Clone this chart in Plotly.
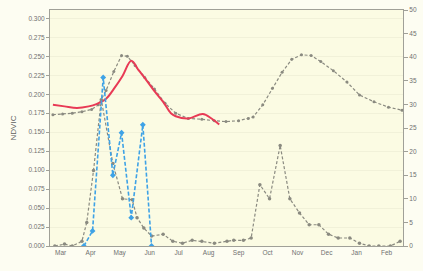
import plotly.graph_objects as go

# Month labels
months = ["Mar", "Apr", "May", "Jun", "Jul", "Aug", "Sep", "Oct", "Nov", "Dec", "Jan", "Feb"]
month_label_dates = ["2009-03-12", "2009-04-12", "2009-05-12", "2009-06-12", "2009-07-12", "2009-08-12",
                     "2009-09-12", "2009-10-12", "2009-11-12", "2009-12-12", "2010-01-12", "2010-02-12"]

# Upper grey dashed series (left axis)
ndvi_mean_dates = ["2009-03-04", "2009-03-14", "2009-03-24", "2009-04-03", "2009-04-13", "2009-04-20",
                   "2009-04-28", "2009-05-06", "2009-05-14", "2009-05-20", "2009-05-28", "2009-06-07",
                   "2009-06-17", "2009-06-28", "2009-07-09", "2009-07-22", "2009-08-05", "2009-08-18",
                   "2009-08-30", "2009-09-12", "2009-09-22", "2009-09-27", "2009-10-07", "2009-10-17",
                   "2009-10-27", "2009-11-06", "2009-11-16", "2009-11-26", "2009-12-06", "2009-12-19",
                   "2010-01-02", "2010-01-15", "2010-01-30", "2010-02-14", "2010-02-28"]
ndvi_mean = [0.173, 0.174, 0.175, 0.177, 0.180, 0.186,
             0.205, 0.230, 0.251, 0.250, 0.238, 0.222,
             0.207, 0.188, 0.175, 0.168, 0.167, 0.165,
             0.164, 0.165, 0.168, 0.170, 0.186, 0.208,
             0.229, 0.246, 0.252, 0.251, 0.243, 0.231,
             0.216, 0.199, 0.190, 0.183, 0.179]

# Red solid series (left axis)
ndvi_year_dates = ["2009-03-04", "2009-03-16", "2009-03-29", "2009-04-10", "2009-04-18", "2009-04-28",
                   "2009-05-06", "2009-05-15", "2009-05-24", "2009-06-01", "2009-06-09", "2009-06-17",
                   "2009-06-26", "2009-07-04", "2009-07-09", "2009-07-22", "2009-08-06", "2009-08-15",
                   "2009-08-23"]
ndvi_year = [0.186, 0.184, 0.182, 0.184, 0.187, 0.194,
             0.207, 0.224, 0.244, 0.231, 0.218, 0.204,
             0.190, 0.175, 0.171, 0.168, 0.174, 0.168,
             0.160]

# Blue dashed series (right axis)
rain_year_dates = ["2009-04-05", "2009-04-14", "2009-04-25", "2009-05-05", "2009-05-14", "2009-05-24",
                   "2009-06-05", "2009-06-14"]
rain_year = [0.0, 3.2, 35.7, 15.0, 24.0, 6.0, 25.7, 0.0]

# Lower grey dashed series (right axis)
rain_mean_dates = ["2009-03-06", "2009-03-16", "2009-03-24", "2009-04-03", "2009-04-08", "2009-04-15",
                   "2009-04-23", "2009-05-05", "2009-05-15", "2009-05-25", "2009-05-30", "2009-06-06",
                   "2009-06-14", "2009-06-26", "2009-07-06", "2009-07-16", "2009-07-26", "2009-08-05",
                   "2009-08-18", "2009-08-31", "2009-09-07", "2009-09-17", "2009-09-25", "2009-10-04",
                   "2009-10-14", "2009-10-25", "2009-11-04", "2009-11-14", "2009-11-24", "2009-12-04",
                   "2009-12-14", "2009-12-24", "2010-01-05", "2010-01-15", "2010-01-25", "2010-02-04",
                   "2010-02-16", "2010-02-26"]
rain_mean = [0.0, 0.4, 0.0, 1.0, 5.0, 16.0,
             31.0, 17.5, 10.0, 9.8, 6.0, 3.8,
             2.1, 2.5, 1.0, 0.6, 1.2, 1.0,
             0.6, 1.0, 1.2, 1.2, 1.7, 13.0,
             10.0, 21.3, 10.0, 7.0, 4.5, 4.5,
             2.5, 1.7, 1.7, 0.6, 0.0, 0.0,
             0.0, 1.0]

left_ticks = [i * 0.025 for i in range(13)]
right_ticks = list(range(0, 51, 5))

grey = "#8a8a80"
fig = go.Figure()
fig.add_trace(go.Scatter(x=rain_mean_dates, y=rain_mean, yaxis="y2", mode="lines+markers",
                         line=dict(color=grey, width=1.2, dash="3px,2px"),
                         marker=dict(size=3.5, color=grey), showlegend=False))
fig.add_trace(go.Scatter(x=ndvi_mean_dates, y=ndvi_mean, mode="lines+markers",
                         line=dict(color=grey, width=1.2, dash="3px,2px"),
                         marker=dict(size=3, color=grey), showlegend=False))
fig.add_trace(go.Scatter(x=rain_year_dates, y=rain_year, yaxis="y2", mode="lines+markers",
                         line=dict(color="#3ea2e6", width=1.6, dash="4px,2px"),
                         marker=dict(size=4.5, color="#3ea2e6", symbol="diamond"), showlegend=False))
fig.add_trace(go.Scatter(x=ndvi_year_dates, y=ndvi_year, mode="lines",
                         line=dict(color="#e83a55", width=2, shape="spline"), showlegend=False))

tickfont = dict(family="Liberation Sans, Arial, sans-serif", size=6.5, color="#707070")
fig.update_layout(
    width=423, height=271,
    margin=dict(l=50, r=9, t=6, b=25),
    paper_bgcolor="#fdfdf2",
    plot_bgcolor="#fbfbe3",
    xaxis=dict(type="date", range=["2009-03-01", "2010-03-01"],
               tickvals=month_label_dates, ticktext=months, tickfont=tickfont,
               showgrid=False, showline=True, linecolor="#a0a098", linewidth=1, mirror=True,
               ticks="", zeroline=False),
    yaxis=dict(range=[0, 0.311], tickvals=left_ticks, ticktext=[f"{v:.3f}" for v in left_ticks],
               tickfont=tickfont, showgrid=True, gridcolor="#f1f1d9", gridwidth=1,
               showline=True, linecolor="#a0a098", linewidth=1, ticks="outside", ticklen=3,
               tickcolor="#a0a098", zeroline=False,
               title=dict(text="NDVIC", font=dict(family="Liberation Sans, Arial, sans-serif",
                                                  size=8, color="#606060"), standoff=10)),
    yaxis2=dict(range=[0, 50], overlaying="y", side="right", tickvals=right_ticks,
                tickfont=tickfont, showgrid=False, showline=True, linecolor="#a0a098",
                linewidth=1, ticks="outside", ticklen=4, tickcolor="#a0a098", zeroline=False,
                ticklabeloverflow="allow", showticklabels=True),
)
fig.write_html("out.html", config={"displayModeBar": False},
               post_script="document.body.style.margin='0px';document.body.style.overflow='hidden';")
